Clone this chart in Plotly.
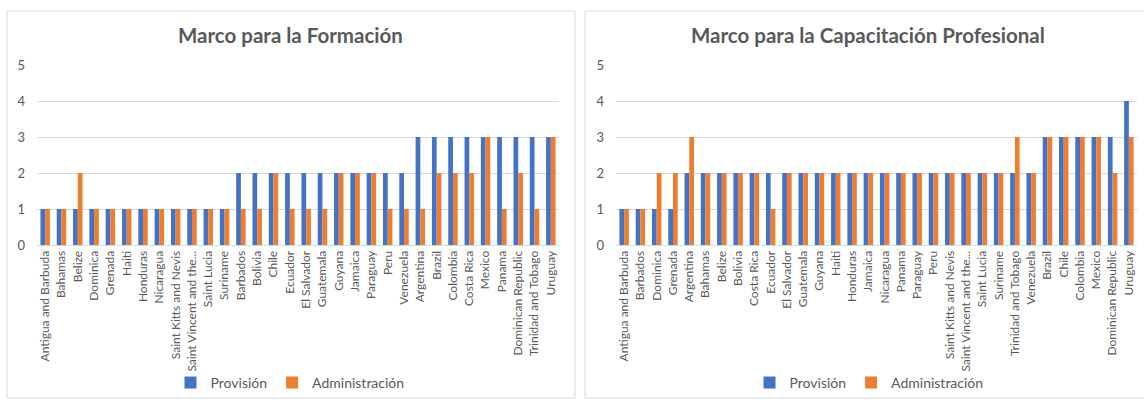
import plotly.graph_objects as go

# ---- Data ----
cats_formacion = [
    "Antigua and Barbuda", "Bahamas", "Belize", "Dominica", "Grenada", "Haiti",
    "Honduras", "Nicaragua", "Saint Kitts and Nevis", "Saint Vincent and the...",
    "Saint Lucia", "Suriname", "Barbados", "Bolivia", "Chile", "Ecuador",
    "El Salvador", "Guatemala", "Guyana", "Jamaica", "Paraguay", "Peru",
    "Venezuela", "Argentina", "Brazil", "Colombia", "Costa Rica", "Mexico",
    "Panama", "Dominican Republic", "Trinidad and Tobago", "Uruguay",
]
prov_formacion = [1, 1, 1, 1, 1, 1, 1, 1, 1, 1, 1, 1, 2, 2, 2, 2,
                  2, 2, 2, 2, 2, 2, 2, 3, 3, 3, 3, 3, 3, 3, 3, 3]
adm_formacion = [1, 1, 2, 1, 1, 1, 1, 1, 1, 1, 1, 1, 1, 1, 2, 1,
                 1, 1, 2, 2, 2, 1, 1, 1, 2, 2, 2, 3, 1, 2, 1, 3]

cats_capacitacion = [
    "Antigua and Barbuda", "Barbados", "Dominica", "Grenada", "Argentina",
    "Bahamas", "Belize", "Bolivia", "Costa Rica", "Ecuador", "El Salvador",
    "Guatemala", "Guyana", "Haiti", "Honduras", "Jamaica", "Nicaragua", "Panama",
    "Paraguay", "Peru", "Saint Kitts and Nevis", "Saint Vincent and the...",
    "Saint Lucia", "Suriname", "Trinidad and Tobago", "Venezuela", "Brazil",
    "Chile", "Colombia", "Mexico", "Dominican Republic", "Uruguay",
]
prov_capacitacion = [1, 1, 1, 1, 2, 2, 2, 2, 2, 2, 2, 2, 2, 2, 2, 2,
                     2, 2, 2, 2, 2, 2, 2, 2, 2, 2, 3, 3, 3, 3, 3, 4]
adm_capacitacion = [1, 1, 2, 2, 3, 2, 2, 2, 2, 1, 2, 2, 2, 2, 2, 2,
                    2, 2, 2, 2, 2, 2, 2, 2, 3, 2, 3, 3, 3, 3, 2, 3]

titles = ["Marco para la Formación", "Marco para la Capacitación Profesional"]
series_names = ["Provisión", "Administración"]
y_ticks = [0, 1, 2, 3, 4, 5]

# ---- Style ----
BLUE = "#4472C4"
ORANGE = "#ED7D31"
GRID = "#D9D9D9"
TXT = "#595959"
FONT = "Lato"
W, H = 1144, 401

fig = go.Figure()

fig.add_trace(go.Bar(x=cats_formacion, y=prov_formacion, name=series_names[0],
                     marker_color=BLUE, xaxis="x", yaxis="y", legend="legend"))
fig.add_trace(go.Bar(x=cats_formacion, y=adm_formacion, name=series_names[1],
                     marker_color=ORANGE, xaxis="x", yaxis="y", legend="legend"))
fig.add_trace(go.Bar(x=cats_capacitacion, y=prov_capacitacion, name=series_names[0],
                     marker_color=BLUE, xaxis="x2", yaxis="y2", legend="legend2"))
fig.add_trace(go.Bar(x=cats_capacitacion, y=adm_capacitacion, name=series_names[1],
                     marker_color=ORANGE, xaxis="x2", yaxis="y2", legend="legend2"))

ydom = [1 - 245 / H, 1 - 65 / H]
xaxis_common = dict(type="category", tickangle=-90, showgrid=False, automargin=False,
                    showline=True, linecolor=GRID, linewidth=1, ticks="",
                    tickfont=dict(family=FONT, size=12, color=TXT), fixedrange=True)
yaxis_common = dict(range=[0, 5], tickvals=y_ticks, showgrid=True, gridcolor=GRID,
                    gridwidth=1, zeroline=False, showline=False, ticks="",
                    automargin=False, ticklabelstandoff=11,
                    tickfont=dict(family=FONT, size=13, color=TXT), fixedrange=True)

legend_common = dict(orientation="h", y=1 - 383 / H, yanchor="middle",
                     font=dict(family=FONT, size=14, color=TXT),
                     bgcolor="rgba(0,0,0,0)", itemwidth=30)

fig.update_layout(
    template="none",
    width=W, height=H,
    margin=dict(l=0, r=0, t=0, b=0, autoexpand=False),
    paper_bgcolor="white", plot_bgcolor="white",
    barmode="group", bargap=0.42, bargroupgap=0,
    xaxis=dict(domain=[37 / W, 559 / W], anchor="y",
               categoryorder="array", categoryarray=cats_formacion, **xaxis_common),
    yaxis=dict(domain=ydom, anchor="x", **yaxis_common),
    xaxis2=dict(domain=[616 / W, 1137 / W], anchor="y2",
                categoryorder="array", categoryarray=cats_capacitacion, **xaxis_common),
    yaxis2=dict(domain=ydom, anchor="x2", **yaxis_common),
    legend=dict(x=290 / W, xanchor="center", **legend_common),
    legend2=dict(x=869 / W, xanchor="center", **legend_common),
    annotations=[
        dict(text="<b>" + titles[0] + "</b>", x=290 / W, y=1 - 35 / H, xref="paper",
             yref="paper", showarrow=False, xanchor="center", yanchor="middle",
             font=dict(family=FONT, size=20.5, color=TXT)),
        dict(text="<b>" + titles[1] + "</b>", x=868 / W, y=1 - 35 / H, xref="paper",
             yref="paper", showarrow=False, xanchor="center", yanchor="middle",
             font=dict(family=FONT, size=20.5, color=TXT)),
    ],
    shapes=[
        dict(type="rect", xref="paper", yref="paper", x0=7 / W, x1=575 / W,
             y0=1 - 398 / H, y1=1 - 11 / H, line=dict(color=GRID, width=1)),
        dict(type="rect", xref="paper", yref="paper", x0=585 / W, x1=1160 / W,
             y0=1 - 398 / H, y1=1 - 11 / H, line=dict(color=GRID, width=1)),
    ],
)

fig.write_html("out.html", config={"displayModeBar": False},
               post_script="document.body.style.margin='0';")
